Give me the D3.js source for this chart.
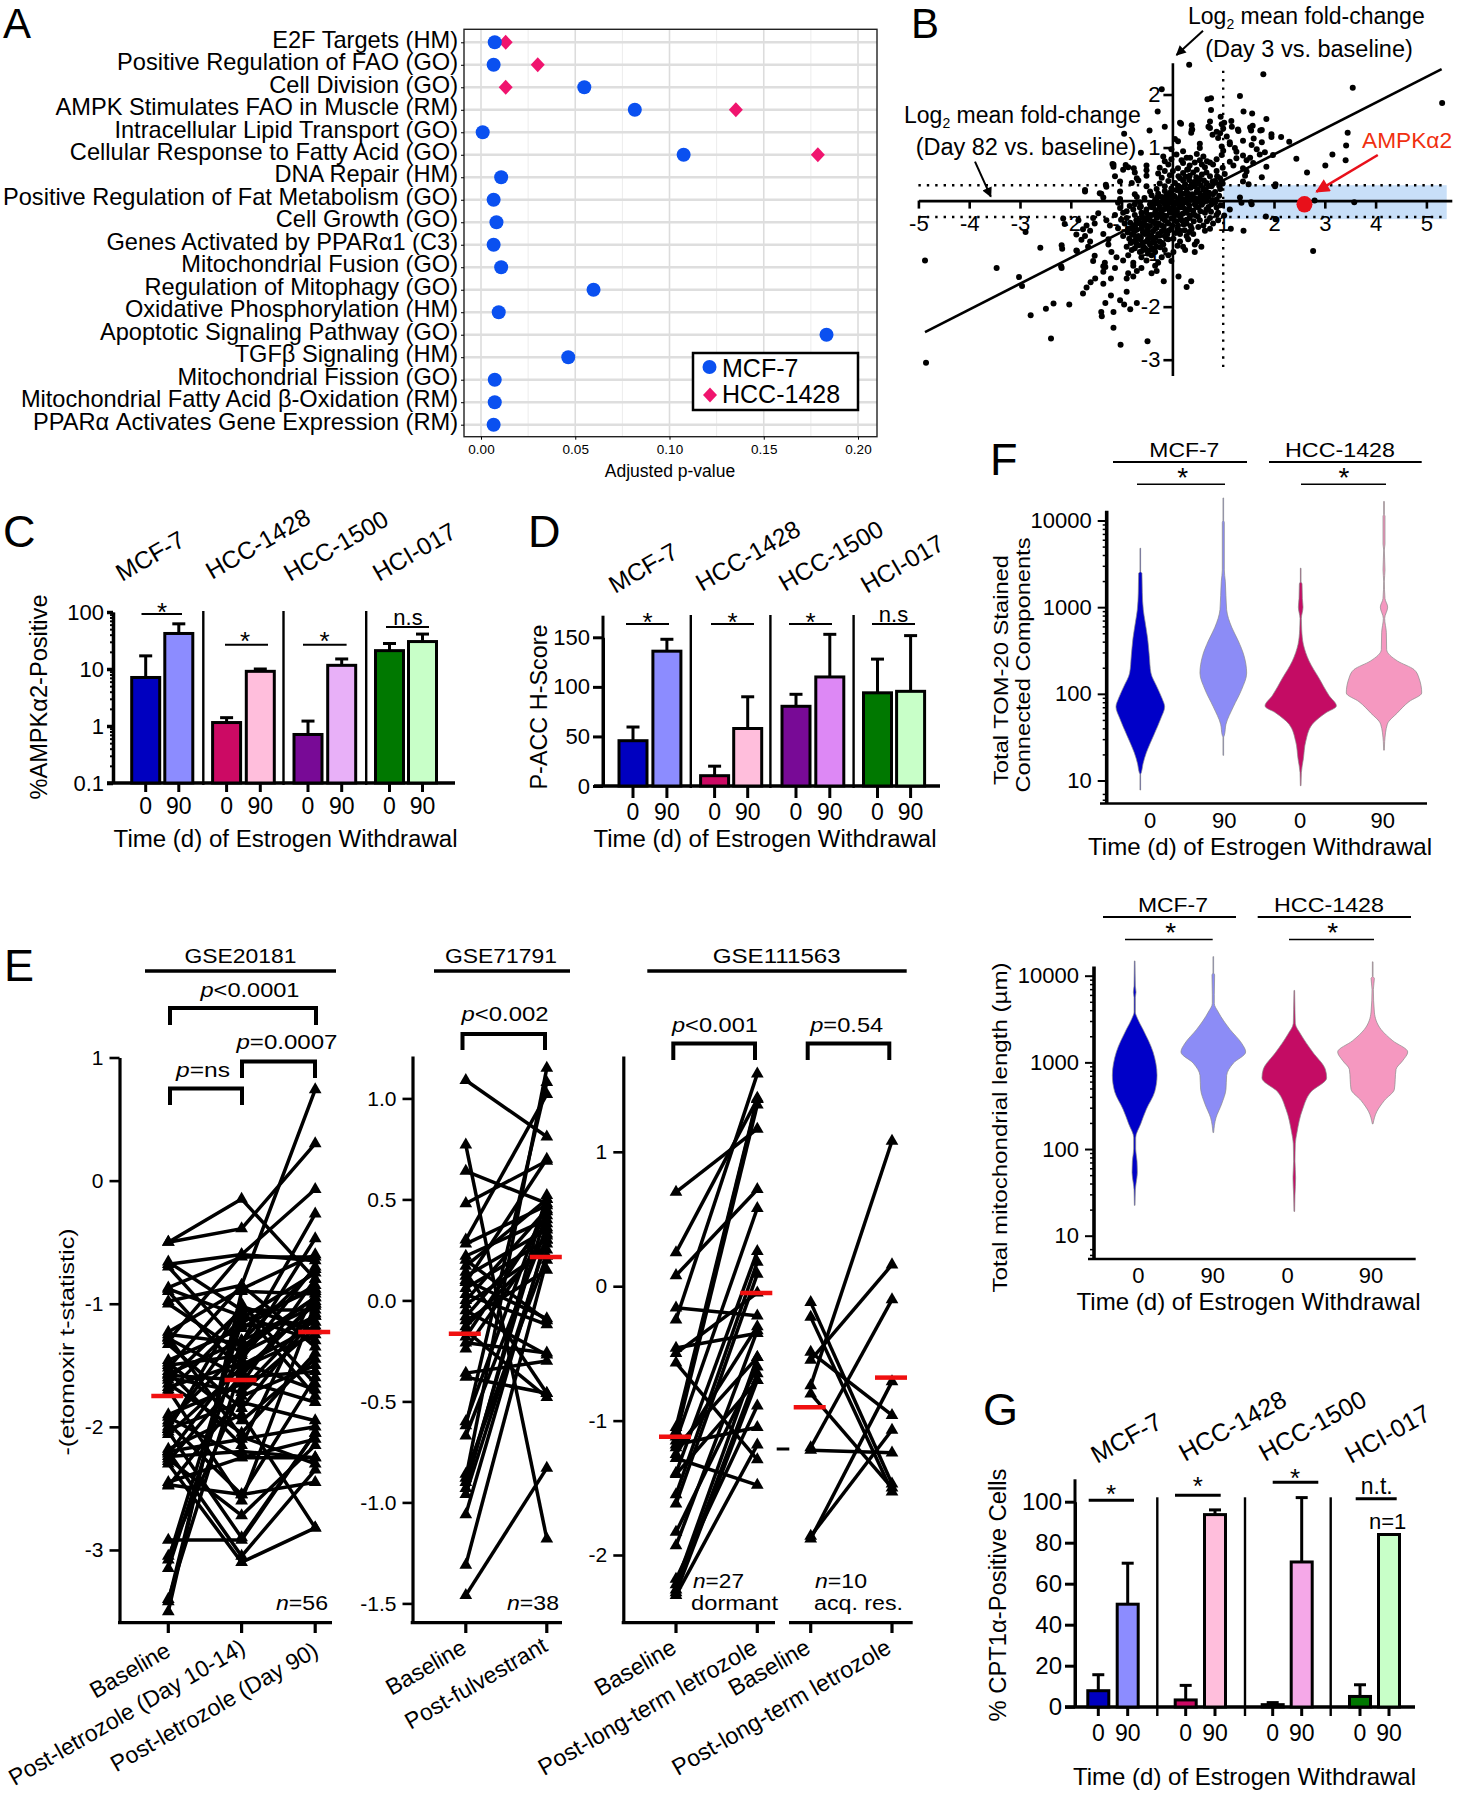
<!DOCTYPE html>
<html><head><meta charset="utf-8">
<script src="https://cdn.jsdelivr.net/npm/d3@7/dist/d3.min.js"></script>
<style>html,body{margin:0;padding:0;background:#fff}svg{display:block}text{font-family:"Liberation Sans",Arial,sans-serif;fill:#000}</style>
</head><body><script>
// ---------- Panel A
const pathways=["E2F Targets (HM)","Positive Regulation of FAO (GO)","Cell Division (GO)","AMPK Stimulates FAO in Muscle (RM)","Intracellular Lipid Transport (GO)","Cellular Response to Fatty Acid (GO)","DNA Repair (HM)","Positive Regulation of Fat Metabolism (GO)","Cell Growth (GO)","Genes Activated by PPARα1 (C3)","Mitochondrial Fusion (GO)","Regulation of Mitophagy (GO)","Oxidative Phosphorylation (HM)","Apoptotic Signaling Pathway (GO)","TGFβ Signaling (HM)","Mitochondrial Fission (GO)","Mitochondrial Fatty Acid β-Oxidation (RM)","PPARα Activates Gene Expression (RM)"];
const pMcf7=[.0073,.0067,.0548,.0816,.0009,.1075,.0107,.0067,.0082,.0067,.0107,.0597,.0094,.1833,.0463,.0073,.0073,.0067];
const pHcc=[.0131,.0301,.0131,.1352,null,.1787,null,null,null,null,null,null,null,null,null,null,null,null];
// ---------- Panel B
const fitLine=[[-4.87,-2.48],[5.3,2.48]];
const ampk=[2.6,-.07];
const scatterOuter=[[.33,2.56],[1.79,2.38],[-.21,2.1],[3.55,2.13],[5.31,1.84],[1.33,1.97],[.69,1.91],[.76,1.93],[.76,1.71],[-.29,1.68],[1.4,1.68],[1.57,1.64],[.95,1.58],[1.85,1.54],[.17,1.45],[-.15,1.39],[-.45,1.32],[-.95,1.26],[.39,1.34],[.37,1.28],[.71,1.39],[1.02,1.47],[1.17,1.39],[1.29,1.34],[1.58,1.41],[1.55,1.32],[1.73,1.32],[1.95,1.25],[2.14,1.2],[2.3,1.11],[3.45,1.28],[3.42,1.04],[3.15,.87],[3.41,.76],[3.01,.66],[2.44,.79],[2.65,.53],[1.98,.86],[2.03,.31],[1.55,-.03],[3.58,-.03],[2.8,0],[2.77,-.95],[1.15,-.53],[1.4,-.57],[1.84,-.3],[2.03,-.35],[-4.87,-1.13],[-4.85,-3.06],[-3.46,-1.27],[-3.02,-1.44],[-2.96,-1.61],[-2.79,-2.16],[-2.6,-.89],[-2.89,-.59],[-2.39,-2.6],[-2.49,-2.04],[-2.34,-1.94],[-2.03,-1.96],[-2.17,-.91],[-2.19,-1.24],[-1.88,-.95],[-1.72,.2],[-1.4,.13],[-1.31,.3],[-1.18,.69],[-1.16,.64],[-.92,.67],[-.76,.61],[-.62,.9],[-1.02,-2.72],[-.49,-2.65],[-1.16,-2.4],[-1.4,-2.1],[-1.39,-2.18],[-1.16,-2.1],[-.95,-1.96],[-.83,-2.05],[-.7,-1.93],[-1.32,-1.93],[.12,-1.43],[.37,-1.52],[.28,-1.63],[-.17,-1.52],[-1.76,-1.75],[-1.69,-1.64],[-1.61,-1.54],[-1.52,-1.47],[-1.36,-1.57],[-1.21,-1.47],[-1.32,-1.25],[-1.21,-1.79],[-.9,-1.72],[-1.03,-1.88]];
const scatterCore=[[.15,1.47],[.38,1.42],[.74,1.49],[.97,1.44],[1.16,1.5],[.38,1.33],[.74,1.37],[.87,1.3],[1,1.36],[1.3,1.31],[1.53,1.38],[1.76,1.33],[.79,1.24],[.94,1.27],[1.07,1.21],[1.95,1.2],[.05,1.16],[.11,1.12],[.9,1.18],[1.13,1.1],[1.39,1.13],[1.6,1.17],[1.76,1.1],[.54,1.07],[.97,1.02],[1.13,1.06],[1.23,.99],[1.56,1.05],[-.02,.97],[.21,.93],[.54,.99],[1,.94],[1.26,.92],[1.66,.97],[1.82,.91],[-.18,.83],[.08,.87],[.28,.81],[.48,.88],[.61,.83],[.97,.86],[1.26,.8],[1.39,.85],[1.53,.81],[1.72,.87],[-.15,.74],[-.02,.78],[.21,.71],[.54,.76],[.74,.72],[.87,.78],[1.13,.73],[1.46,.76],[1.59,.71],[-1.16,.68],[-.87,.63],[-.51,.66],[-.25,.62],[-.08,.68],[.11,.61],[.34,.66],[.64,.63],[.8,.68],[.99,.62],[1.2,.66],[1.39,.61],[1.85,.64],[-.97,.58],[-.74,.53],[-.51,.57],[-.28,.51],[-.15,.56],[.21,.52],[.48,.58],[.67,.53],[.87,.56],[1.03,.5],[1.46,.55],[-1.13,.46],[-.7,.42],[-.51,.47],[-.21,.43],[-.05,.48],[.15,.42],[.34,.47],[.54,.41],[.74,.46],[.94,.42],[1.43,.47],[1.76,.44],[-1.03,.36],[-.8,.33],[-.67,.38],[-.25,.32],[-.08,.37],[.05,.33],[.21,.38],[.38,.31],[.51,.36],[.67,.33],[.84,.37],[.99,.32],[1.39,.36],[1.5,.31],[-1.3,.26],[-.51,.27],[-.31,.22],[-.15,.27],[-.02,.23],[.11,.28],[.28,.22],[.44,.27],[.61,.23],[.77,.27],[.94,.22],[2.02,.27],[-1.72,.17],[-1.43,.14],[-1.03,.17],[-.74,.12],[-.44,.17],[-.28,.13],[-.15,.18],[-.02,.12],[.15,.17],[.31,.13],[.48,.17],[.64,.12],[.84,.16],[-1.36,.06],[-1.03,.03],[-.7,.07],[-.34,.02],[-.21,.07],[-.08,.03],[.05,.07],[.21,.02],[.38,.07],[.54,.03],[.71,.07],[.87,.02],[1.33,.06],[-1.07,-.04],[-.74,-.07],[-.64,-.03],[-.44,-.07],[-.28,-.03],[-.15,-.07],[-.02,-.03],[.11,-.07],[.28,-.03],[.44,-.07],[.61,-.03],[.77,-.07],[1.36,-.04],[1.56,-.07],[-1.03,-.14],[-.77,-.17],[-.64,-.13],[-.51,-.17],[-.38,-.13],[-.21,-.17],[-.08,-.13],[.05,-.17],[.21,-.13],[.34,-.17],[.51,-.13],[.67,-.17],[.87,-.13],[1.13,-.17],[-1.46,-.24],[-1.13,-.27],[-.97,-.23],[-.74,-.27],[-.61,-.23],[-.48,-.27],[-.34,-.23],[-.18,-.27],[-.05,-.23],[.11,-.27],[.28,-.23],[.44,-.27],[.64,-.23],[.87,-.27],[-2.15,-.34],[-1.85,-.37],[-1.56,-.33],[-1.3,-.37],[-.9,-.33],[-.71,-.37],[-.57,-.33],[-.44,-.37],[-.31,-.33],[-.15,-.37],[.02,-.33],[.18,-.37],[.34,-.33],[.54,-.37],[.74,-.33],[.9,-.37],[-2.12,-.44],[-1.69,-.47],[-1.53,-.43],[-1.23,-.47],[-.94,-.43],[-.77,-.47],[-.64,-.43],[-.51,-.47],[-.34,-.43],[-.21,-.47],[-.08,-.43],[.11,-.47],[.28,-.43],[.61,-.47],[.8,-.43],[-1.76,-.54],[-1.62,-.57],[-.87,-.53],[-.74,-.57],[-.61,-.53],[-.48,-.57],[-.34,-.53],[-.15,-.57],[-.02,-.53],[.15,-.57],[.38,-.53],[.64,-.57],[.74,-.53],[-1.89,-.64],[-1.72,-.67],[-1.36,-.63],[-.97,-.67],[-.8,-.63],[-.67,-.67],[-.54,-.63],[-.41,-.67],[-.28,-.63],[-.15,-.67],[.15,-.63],[.28,-.67],[.41,-.63],[-1.79,-.74],[-1.62,-.77],[-1.26,-.73],[-.77,-.77],[-.64,-.73],[-.51,-.77],[-.38,-.73],[-.25,-.77],[-.08,-.73],[.15,-.77],[.31,-.73],[.48,-.77],[-2.18,-.84],[-1.66,-.87],[-1.26,-.83],[-.9,-.87],[-.7,-.83],[-.57,-.87],[-.44,-.83],[-.31,-.87],[-.18,-.83],[.21,-.87],[.44,-.83],[.57,-.87],[-1.89,-.94],[-1.2,-.97],[-.8,-.93],[-.64,-.97],[-.51,-.93],[-.34,-.97],[-.15,-.93],[.02,-.97],[.25,-.93],[.44,-.97],[-1.53,-1.04],[-1.1,-1.07],[-.87,-1.03],[-.61,-1.07],[-.41,-1.03],[-.21,-1.07],[-.08,-1.03],[-1.56,-1.14],[-1.33,-1.17],[-.97,-1.13],[-.77,-1.17],[-.51,-1.13],[-.28,-1.17],[-.02,-1.14],[-2.18,-1.27],[-1.36,-1.24],[-1.13,-1.27],[-.77,-1.23],[-.61,-1.27],[-.34,-1.23],[-1.36,-1.34],[-.87,-1.37],[-.7,-1.33],[-.41,-1.37],[-.31,-1.33],[-.9,-1.47],[-.77,-1.43]];
const scatterDense=[[.29,.58],[.41,.53],[.58,.49],[.47,.44],[.62,.38],[.33,.39],[.43,.35],[.56,.29],[.71,.28],[.25,.31],[.36,.24],[.5,.21],[.66,.18],[.8,.12],[.18,.24],[.24,.13],[.39,.12],[.55,.11],[.72,.15],[.08,.2],[.16,.08],[.3,.06],[.46,.04],[.62,.06],[.79,.01],[.92,.09],[-.05,.15],[.03,.09],[.12,.02],[.25,-.02],[.36,.01],[.5,-.02],[.68,-.01],[.84,-.04],[.95,-.09],[-.12,.09],[-.03,.04],[.08,-.03],[.19,-.08],[.33,-.09],[.47,-.11],[.58,-.08],[.71,-.12],[-.18,.03],[-.09,-.05],[.02,-.09],[.14,-.13],[.26,-.17],[.41,-.19],[.55,-.2],[.76,-.21],[-.3,.06],[-.19,-.02],[-.11,-.1],[.01,-.15],[.09,-.21],[.2,-.25],[.35,-.28],[.5,-.3],[-.35,-.06],[-.25,-.11],[-.15,-.16],[-.05,-.2],[.05,-.27],[.16,-.32],[.28,-.36],[.42,-.39],[-.42,-.12],[-.32,-.18],[-.22,-.23],[-.12,-.29],[-.02,-.34],[.08,-.39],[.22,-.45],[.36,-.48],[-.52,-.22],[-.42,-.27],[-.28,-.29],[-.2,-.34],[-.1,-.41],[0,-.47],[.1,-.53],[.24,-.56],[-.6,-.3],[-.5,-.35],[-.38,-.4],[-.27,-.43],[-.17,-.49],[-.06,-.56],[.06,-.61],[-.66,-.38],[-.56,-.42],[-.44,-.48],[-.31,-.51],[-.21,-.58],[-.1,-.63],[-.72,-.45],[-.6,-.5],[-.5,-.55],[-.38,-.58],[-.25,-.66],[-.12,-.72],[-.82,-.52],[-.7,-.55],[-.58,-.6],[-.45,-.65],[-.33,-.7],[-.2,-.8],[-.88,-.6],[-.76,-.65],[-.62,-.7],[-.48,-.72],[-.35,-.79],[-.24,-.88],[-.85,-.72],[-.72,-.74],[-.58,-.79],[-.45,-.8],[-.36,-.9],[-.82,-.8],[-.66,-.84],[-.54,-.9],[-.42,-.92],[-.74,-.9],[-.6,-.95],[-.48,-1],[.18,.76],[.35,.81],[.44,.72],[.58,.68],[.68,.74],[.31,.59],[.12,.46],[.01,.56],[.26,.45],[.88,.46],[.79,.36],[.92,.28],[-.41,.1],[-.55,.05],[-.62,-.11],[-.84,-.1],[-.9,-.2],[-1.01,-.36],[-.83,-.42],[-1.07,-.52],[.9,-.23],[1.02,-.28],[.68,-.39],[.51,-.5],[.33,-.59],[.02,-.72],[.1,-.85]];
// ---------- Panels C, D, G
const lines4=["MCF-7","HCC-1428","HCC-1500","HCI-017"];
const barKeys=["m0","m90","h0","h90","b0","b90","i0","i90"];
const barLabels=["0","90","0","90","0","90","0","90"];
const cVal=[7.1,42,1.15,9.1,.71,11.6,21,30.3], cErr=[17,62,1.4,10,1.22,15,28,41];
const cFill=["#0000c0","#8c8cff","#cc0a64","#ffbedc","#780a96","#e8b0f8","#007800","#c8ffc8"];
const dVal=[45.7,136,10.4,58,80.4,110,94,95.5], dErr=[59.5,148,20,90,92.5,153,128,151.7];
const dFill=["#0000c0","#8c8cff","#cc0a64","#ffbedc","#780a96","#dd88f5","#007800","#c8ffc8"];
const gVal=[7.8,50,3.3,93.7,1,70.6,5,84], gErr=[15.6,70,10.4,96,2,102,10.7,84];
const gFill=["#0000c0","#8c8cff","#cc0a64","#ffbedc","#780a96","#f5a8e8","#007800","#c8ffc8"];
// ---------- Panel E
const e1Base=[-.5,-.5,-.66,-.68,-.7,-.87,-.88,-.9,-.98,-1,-1.23,-1.25,-1.28,-1.3,-1.33,-1.46,-1.48,-1.5,-1.52,-1.55,-1.57,-1.6,-1.62,-1.65,-1.68,-1.7,-1.72,-1.9,-1.92,-1.95,-1.97,-2,-2.02,-2.04,-2.06,-2.18,-2.2,-2.22,-2.24,-2.26,-2.28,-2.3,-2.45,-2.47,-2.48,-2.92,-3.05,-3.08,-3.15,-3.4,-3.42,-3.5,-2.2,-2.02,-1.58,-1.27];
const e1Mid=[-.15,-.39,-1.05,-.6,-1.35,-.62,-1.1,-1.55,-.85,-1.4,-.88,-1.32,-1.6,-.6,-1.85,-1.2,-1.95,-1.42,-.85,-2.15,-1.3,-1.72,-1.05,-2.05,-1.48,-2.6,-1.12,-1.65,-2.25,-1.38,-2.55,-1.18,-1.8,-2.9,-1.52,-1.9,-3.05,-1.45,-2.2,-2.72,-1.58,-3.1,-2.25,-2.55,-1.75,-2.92,-1.7,-1.15,-1.3,-1.5,-1.02,-.9,-2.1,-1,-1.62,-2.08];
const e1Late=[-.8,.3,-1.05,-.07,-.95,-.62,-1.3,-1,.74,-1.1,-.6,-.27,-1.55,-.65,-1.1,-.85,-1.45,-.47,-1.35,-.9,-.72,-1.2,-1.75,-1.4,-1.7,-1,-.75,-.8,-2.1,-.95,-1.6,-1.15,-1.95,-2.05,-1.25,-2.82,-2.35,-.7,-2.25,-2.15,-.98,-2.82,-2.25,-2.45,-1.5,-2.05,-1.08,-.88,-1.02,-1.18,-1.22,-.92,-2,-1.65,-1.8,-2.3];
const e2Base=[1.09,.77,.64,.48,.3,.28,.22,.2,.17,.14,.12,.09,.06,.03,0,-.02,-.05,-.08,-.1,-.13,-.15,-.18,-.21,-.24,-.36,-.38,-.6,-.62,-.67,-.86,-.88,-.9,-.93,-.96,-1.06,-1.31,-1.46,.1];
const e2Post=[.81,-1.18,.48,.69,1.02,.47,.4,-.1,.5,-.46,.35,.7,.3,-.12,.45,.25,-.27,.38,.15,.28,-.48,.42,-.26,.33,-.3,-.46,.5,1.08,.36,.22,1.15,.44,.52,.3,.32,.2,-.83,-.09];
const e3Base=[.7,.25,.08,-.16,-.25,-.46,-.5,-.57,-1.05,-1.08,-1.12,-1.15,-1.18,-1.2,-1.25,-1.28,-1.39,-1.4,-1.55,-1.62,-1.83,-1.93,-2.18,-2.22,-2.26,-2.28,-2.3];
const e3Post=[1.17,1.39,.72,-.22,1.58,-.35,-.05,-1.29,1.4,1.39,1.35,.58,-1.05,-.53,-.3,-1.48,.26,-.7,.18,.09,-.6,-.33,-.89,-.53,-.65,-.7,-1.18];
const e4Base=[-.12,-.23,-.49,-.55,-.74,-.8,-1.2,-1.22,-1.86,-1.88];
const e4Post=[-1.47,-1.53,-.96,.16,1.08,-1.5,-.1,-1.24,-1.07,-.71];
const e1Means=[-1.75,-1.62,-1.23], e2Means=[-.165,.215], e3Means=[-1.12,-.05], e4Means=[-.9,-.68];
// ---------- Panel F: [log10 value, relative density]
const fTomV=[
 [[3.68,1],[3.41,1],[3.39,5],[3.17,6],[2.97,9],[2.84,14],[2.64,22],[2.44,27],[2.24,32],[2.08,50],[1.95,65],[1.85,73],[1.72,62],[1.52,40],[1.32,18],[1.19,8],[1.09,3],[1.07,1],[.89,1]],
 [[4.26,1],[4,1],[3.98,3],[3.43,3],[3.3,6],[2.97,10],[2.77,25],[2.61,45],[2.44,62],[2.24,70],[2.05,55],[1.85,30],[1.65,8],[1.52,3],[1.5,1],[1.29,1]],
 [[3.45,1],[3.29,1],[3.27,4],[3.1,5],[3,7],[2.87,2],[2.74,3],[2.57,8],[2.38,25],[2.18,55],[1.98,85],[1.86,107],[1.78,75],[1.65,35],[1.45,15],[1.25,8],[1.09,2],[.94,1]],
 [[4.22,1],[4.07,1],[4.05,3],[3.73,3],[3.66,1],[3.43,3],[3.3,1],[3.1,3],[3,11],[2.87,2],[2.71,7],[2.51,8],[2.38,40],[2.28,90],[2.18,105],[2.01,113],[1.91,75],[1.78,40],[1.65,10],[1.45,2],[1.35,1]]];
const fLenV=[
 [[4.17,1],[3.88,2],[3.81,4],[3.75,2],[3.58,2],[3.51,8],[3.38,25],[3.12,55],[2.85,67],[2.66,60],[2.46,35],[2.29,18],[2.13,3],[2,3],[1.86,7],[1.73,8],[1.6,4],[1.53,2],[1.35,1]],
 [[4.22,1],[4.03,1],[4.01,4],[3.78,3],[3.68,3],[3.58,15],[3.38,50],[3.22,85],[3.12,97],[2.99,60],[2.85,40],[2.69,38],[2.52,25],[2.36,8],[2.19,1]],
 [[3.83,1],[3.61,2],[3.45,3],[3.32,20],[3.12,55],[2.92,93],[2.82,97],[2.66,50],[2.46,25],[2.19,8],[2.06,3],[1.86,2],[1.67,4],[1.47,2],[1.28,1]],
 [[4.16,1],[3.99,1],[3.97,5],[3.84,2],[3.58,5],[3.38,25],[3.25,60],[3.12,105],[3.02,90],[2.92,70],[2.69,65],[2.56,35],[2.43,12],[2.29,1]]];
const violinFill=["#0000c8","#8c8cf6","#c40c64","#f598c0"];
const violinKeys=["m0","m90","h0","h90"], violinLabels=["0","90","0","90"];

// ---------- helpers
const svg=d3.select("body").append("svg").attr("width",1459).attr("height",1800).attr("viewBox","0 0 1459 1800");
const defs=svg.append("defs");
[["ab","#000"],["ar","#e8101a"]].forEach(([id,c])=>defs.append("marker").attr("id",id).attr("viewBox","0 0 10 10").attr("refX",9).attr("refY",5).attr("markerUnits","userSpaceOnUse").attr("orient","auto").attr("markerWidth",id=="ar"?18:11).attr("markerHeight",id=="ar"?14:10).append("path").attr("d","M0,0L10,5L0,10z").attr("fill",c));
function T(x,y,s,size,o={}){
  const t=svg.append("text").attr("font-size",size).attr("text-anchor",o.a||"middle");
  if(o.rot!=null)t.attr("transform",`translate(${x},${y}) rotate(${o.rot})`);else t.attr("x",x).attr("y",y);
  if(o.c)t.style("fill",o.c);
  if(o.mid)t.attr("dy",".35em");
  if(o.it)t.attr("font-style","italic");
  if(o.w)t.attr("font-weight",o.w);
  if(o.p){t.append("tspan").attr("font-style","italic").text(o.p);t.append("tspan").text(s);}else t.text(s);
  if(o.len)t.attr("textLength",o.len).attr("lengthAdjust","spacingAndGlyphs");
  return t;
}
function L(x1,y1,x2,y2,w=3,c="#000",dash){const l=svg.append("line").attr("x1",x1).attr("y1",y1).attr("x2",x2).attr("y2",y2).attr("stroke",c).attr("stroke-width",w);if(dash)l.attr("stroke-dasharray",dash);return l;}
function star(x,yc,size=26){T(x,yc+size*.5,"*",size);}
function styleAxis(g,w,size,font){g.selectAll(".domain").attr("stroke","#000").attr("stroke-width",w);g.selectAll(".tick line").attr("stroke","#000").attr("stroke-width",w);g.selectAll("text").attr("font-size",font).attr("font-family",null);g.attr("font-family",null);}
[["A",3,38,42],["B",911,38,42],["C",3,546.7,45],["D",528,547,45],["E",4,980.6,45],["F",990,474.5,45],["G",983,1425,45]].forEach(d=>T(d[1],d[2],d[0],d[3],{a:"start"}));

// ---------- Panel A
{
 const x=d3.scaleLinear([0,.2],[481,858]),y=d3.scalePoint(pathways,[42.3,424.7]);
 [0,.025,.05,.075,.1,.125,.15,.175,.2].forEach(v=>L(x(v),29.3,x(v),436.7,Math.round(v*1000)%50?1:1.6,Math.round(v*1000)%50?"#ececec":"#dcdcdc"));
 pathways.forEach(p=>L(464,y(p),877,y(p),2.5,"#dedede"));
 svg.append("rect").attr("x",464).attr("y",29.3).attr("width",413).attr("height",407.4).attr("fill","none").attr("stroke","#222").attr("stroke-width",1.4);
 const gy=svg.append("g").attr("transform","translate(464,0)").call(d3.axisLeft(y).tickSize(3).tickPadding(3));
 styleAxis(gy,1,3,23.6);gy.select(".domain").remove();gy.selectAll("text").attr("dy",".2em");
 const gx=svg.append("g").attr("transform","translate(0,436.7)").call(d3.axisBottom(x).tickValues([0,.05,.1,.15,.2]).tickFormat(d3.format(".2f")).tickSize(3).tickPadding(5));
 styleAxis(gx,1,3,13.5);gx.select(".domain").remove();
 T(670,477,"Adjusted p-value",17.5);
 pathways.forEach((p,i)=>{
   if(pHcc[i]!=null)svg.append("path").attr("d","M0,-7.5L7,0L0,7.5L-7,0Z").attr("transform",`translate(${x(pHcc[i])},${y(p)})`).attr("fill","#f0146e");
 });
 pathways.forEach((p,i)=>svg.append("circle").attr("cx",x(pMcf7[i])).attr("cy",y(p)).attr("r",7).attr("fill","#0a50f0"));
 svg.append("rect").attr("x",693).attr("y",353).attr("width",165).attr("height",57).attr("fill","#fff").attr("stroke","#000").attr("stroke-width",2.5);
 svg.append("circle").attr("cx",709.5).attr("cy",367).attr("r",7).attr("fill","#0a50f0");
 svg.append("path").attr("d","M0,-7.5L7,0L0,7.5L-7,0Z").attr("transform","translate(710,395)").attr("fill","#f0146e");
 T(722,377,"MCF-7",25,{a:"start"});T(722,403,"HCC-1428",25,{a:"start"});
}
// ---------- Panel B
{
 const x=d3.scaleLinear([-5,5.5],[918.4,1451.8]),y=d3.scaleLinear([2.6,-3.3],[62.7,375.6]);
 svg.append("rect").attr("x",x(1)).attr("y",y(.29)).attr("width",x(5.4)-x(1)).attr("height",y(-.35)-y(.29)).attr("fill","#c8dff8");
 const fmt=d=>String(d);
 const gx=svg.append("g").attr("transform",`translate(0,${y(0)})`).call(d3.axisBottom(x).tickValues([-5,-4,-3,-2,-1,1,2,3,4,5]).tickFormat(fmt).tickSize(8).tickPadding(7).tickSizeOuter(0));
 styleAxis(gx,2.6,8,22);
 const gy=svg.append("g").attr("transform",`translate(${x(0)},0)`).call(d3.axisLeft(y).tickValues([-3,-2,-1,1,2]).tickFormat(fmt).tickSize(9).tickPadding(3).tickSizeOuter(0));
 styleAxis(gy,2.6,9,22);
 L(x(-5),y(.29),x(5.4),y(.29),2.4,"#000","2.4 6");
 L(x(-5),y(-.31),x(5.4),y(-.31),2.4,"#000","2.4 6");
 L(x(1),y(2.45),x(1),y(-3.2),2.4,"#000","2.4 6");
 L(x(fitLine[0][0]),y(fitLine[0][1]),x(fitLine[1][0]),y(fitLine[1][1]),2.6);
 svg.selectAll("circle.sc").data(scatterOuter.concat(scatterCore,scatterDense)).join("circle").attr("class","sc").attr("cx",d=>x(d[0])).attr("cy",d=>y(d[1])).attr("r",3).attr("fill","#000");
 svg.append("ellipse").attr("cx",x(ampk[0])).attr("cy",y(ampk[1])).attr("rx",8).attr("ry",8.3).attr("fill","#e8101a");
 function log2(xp,yp){const t=svg.append("text").attr("x",xp).attr("y",yp).attr("font-size",23);t.append("tspan").text("Log");t.append("tspan").attr("font-size",14).attr("dy",5).text("2");t.append("tspan").attr("dy",-5).text(" mean fold-change");}
 log2(1188,24);T(1309,56.7,"(Day 3 vs. baseline)",23.5);
 log2(904,122.7);T(1026,155,"(Day 82 vs. baseline)",23.5);
 L(1203,30.7,1176.5,55,2).attr("marker-end","url(#ab)");
 L(975,161.7,990.8,196.7,2).attr("marker-end","url(#ab)");
 L(1377.8,155,1316.5,191.7,2.6,"#e8101a").attr("marker-end","url(#ar)");
 T(1362,147.7,"AMPKα2",22,{a:"start",c:"#f03010",len:90});
}
// ---------- bar panels
function barPanel(o){
 const x=d3.scaleOrdinal(barKeys,o.centers);
 const y=o.y;
 const gx=svg.append("g").attr("transform",`translate(0,${o.y0})`);
 gx.append("line").attr("x1",o.xr[0]).attr("x2",o.xr[1]).attr("stroke","#000").attr("stroke-width",o.sw+.6);
 barKeys.forEach((k,i)=>{
   const cx=x(k),top=y(o.val[i]),bw=o.bw;
   if(o.err[i]>o.val[i]){L(cx,top,cx,y(o.err[i]),o.sw);L(cx-o.cap,y(o.err[i]),cx+o.cap,y(o.err[i]),o.sw);}
   svg.append("rect").attr("x",cx-bw/2).attr("y",top).attr("width",bw).attr("height",Math.max(0,o.y0-top)).attr("fill",o.fill[i]).attr("stroke","#000").attr("stroke-width",o.sw);
   L(cx,o.y0,cx,o.y0+o.tick,o.sw);
   T(cx,o.tickY,barLabels[i],o.font,{mid:1});
 });
 o.div.forEach(d=>L(d,o.divY[0],d,o.divY[1],2.4));
}
{
 const y=d3.scaleLog([.1,100],[783,612]);
 barPanel({centers:[145.7,178.8,226.6,260.3,308,341.7,389.5,422.5],y,y0:783,xr:[107,455],val:cVal,err:cErr,fill:cFill,bw:28,cap:6.5,sw:3,tick:9,tickY:806,font:23,div:[203.3,283.5,366.2],divY:[611,785]});
 const g=svg.append("g").attr("transform","translate(113,0)").call(d3.axisLeft(y).tickValues([.2,.3,.4,.5,.6,.7,.8,.9,2,3,4,5,6,7,8,9,20,30,40,50,60,70,80,90]).tickFormat("").tickSize(3).tickSizeOuter(0));
 styleAxis(g,2,3,12);
 const g2=svg.append("g").attr("transform","translate(113,0)").call(d3.axisLeft(y).tickValues([.1,1,10,100]).tickFormat(d=>String(d)).tickSize(6).tickPadding(3).tickSizeOuter(0));
 styleAxis(g2,3.5,6,22);
 T(47,697,"%AMPKα2-Positive",23,{rot:-90,len:205});
 T(285.6,847,"Time (d) of Estrogen Withdrawal",23,{len:344});
 [[122,582],[212,580],[290,582],[379,582]].forEach((p,i)=>T(p[0],p[1],lines4[i],24.5,{a:"start",rot:-30}));
 L(141.5,614,182,614,2);star(162,608);L(225,644.7,268,644.7,2);star(245,637);L(303,644.7,346.6,644.7,2);star(324.5,637);L(386,627,429,627,2);T(408,617,"n.s",22,{mid:1});
}
{
 const y=d3.scaleLinear([0,150],[786,637.3]);
 barPanel({centers:[633,666.9,714.6,747.7,796,829.8,877.5,910.6],y,y0:786,xr:[594,940],val:dVal,err:dErr,fill:dFill,bw:28,cap:6.5,sw:3,tick:12,tickY:812,font:23,div:[690.8,770.4,853.6],divY:[615,788]});
 L(603,615.7,603,786,3);
 const g=svg.append("g").attr("transform","translate(603,0)").call(d3.axisLeft(y).tickValues([0,50,100,150]).tickSize(10).tickPadding(3).tickSizeOuter(0));
 styleAxis(g,3,10,22);
 T(547,707,"P-ACC H-Score",23,{rot:-90,len:165});
 T(765,847,"Time (d) of Estrogen Withdrawal",23,{len:343});
 [[615,594],[702,592],[785,592],[867,594]].forEach((p,i)=>T(p[0],p[1],lines4[i],24.5,{a:"start",rot:-30}));
 [[626,669],[711,754],[789,832]].forEach(s=>{L(s[0],624,s[1],624,2);star((s[0]+s[1])/2,618);});
 L(872,624,915,624,2);T(893.5,614,"n.s",22,{mid:1});
}
{
 const y=d3.scaleLinear([0,100],[1706.7,1501.7]);
 barPanel({centers:[1098.3,1127.7,1185.7,1215,1272.7,1301.7,1360,1389],y,y0:1707,xr:[1065,1415],val:gVal,err:gErr,fill:gFill,bw:21,cap:6,sw:3,tick:9,tickY:1733,font:23,div:[1157.3,1245,1330.7],divY:[1497.3,1716]});
 L(1075,1479.3,1075,1707,3);
 const g=svg.append("g").attr("transform","translate(1075,0)").call(d3.axisLeft(y).tickValues([0,20,40,60,80,100]).tickSize(10).tickPadding(3).tickSizeOuter(0));
 styleAxis(g,3,10,24);
 T(1006,1595,"% CPT1α-Positive Cells",23,{rot:-90,len:253});
 T(1244.5,1785,"Time (d) of Estrogen Withdrawal",24,{len:343});
 [[1097,1464],[1185,1462],[1265,1462],[1351,1464]].forEach((p,i)=>T(p[0],p[1],lines4[i],25,{a:"start",rot:-29}));
 L(1088.7,1500.3,1134,1500.3,3);star(1111,1490);L(1175,1495.3,1220.7,1495.3,3);star(1197.7,1482);L(1272.7,1482.3,1318.3,1482.3,3);star(1295,1474);
 L(1355.7,1498.7,1396.7,1498.7,3);T(1376.7,1486,"n.t.",23,{mid:1});T(1387.7,1521.7,"n=1",22,{mid:1});
}
// ---------- Panel E
function paired(cols,means,keys,x,y){
 const rows=d3.range(cols[0].length);
 const ln=d3.line().x((d,i)=>x(keys[i])).y(d=>y(d));
 rows.forEach(r=>svg.append("path").attr("d",ln(cols.map(c=>c[r]))).attr("fill","none").attr("stroke","#000").attr("stroke-width",3.5));
 const tri=d3.symbol(d3.symbolTriangle,70)();
 cols.forEach((c,i)=>svg.selectAll(null).data(c).join("path").attr("d",tri).attr("fill","#000").attr("transform",d=>`translate(${x(keys[i])},${y(d)})`));
 means.forEach((m,i)=>L(x(keys[i])-17,y(m),x(keys[i])+15,y(m),4.5,"#f01010"));
}
function bracket(x1,x2,ytop,ybot){svg.append("path").attr("d",d3.line()([[x1,ybot],[x1,ytop],[x2,ytop],[x2,ybot]])).attr("fill","none").attr("stroke","#000").attr("stroke-width",4);}
function eAxis(xp,y,vals,fmt){const g=svg.append("g").attr("transform",`translate(${xp},0)`).call(d3.axisLeft(y).tickValues(vals).tickFormat(fmt).tickSize(10).tickPadding(6).tickSizeOuter(0));styleAxis(g,3.2,10,21);g.selectAll(".tick line").attr("stroke-width",2.6);}
function eXAxis(xr,keys,x){L(xr[0],1622.6,xr[1],1622.6,3.2);keys.forEach(k=>L(x(k),1622.6,x(k),1633,3.2));}
{
 const keys=["b","m","l"];const x=d3.scaleOrdinal(keys,[168.3,241.6,315.2]);
 const y=d3.scaleLinear([1,-3.59],[1057.5,1622.6]);
 eAxis(119.5,y,[1,0,-1,-2,-3],d=>String(d));eXAxis([118,332],keys,x);
 paired([e1Base,e1Mid,e1Late],e1Means,keys,x,y);
 T(74,1342,"-(etomoxir t-statistic)",21,{rot:-90,len:227});
 T(240.5,963,"GSE20181",20,{len:112});L(145,971,336,971,3.5);
 T(250,997,"<0.0001",21,{p:"p",len:99});bracket(170,316,1008,1025);
 T(203,1077,"=ns",21,{p:"p",len:54});bracket(170,242,1088.4,1105);
 T(287,1049,"=0.0007",21,{p:"p",len:101});bracket(242,315,1061.4,1078);
 T(302,1610,"=56",20,{p:"n",len:52});
 [["Baseline",172,1655],["Post-letrozole (Day 10-14)",247,1652],["Post-letrozole (Day 90)",320,1655]].forEach(d=>T(d[1],d[2],d[0],23,{a:"end",rot:-30}));
}
{
 const keys=["b","p"];const x=d3.scaleOrdinal(keys,[465.8,546.8]);
 const y=d3.scaleLinear([1.21,-1.595],[1056,1622.6]);
 eAxis(412.5,y,[1,.5,0,-.5,-1,-1.5],d=>d.toFixed(1));eXAxis([410.7,562],keys,x);
 paired([e2Base,e2Post],e2Means,keys,x,y);
 T(501,963,"GSE71791",20,{len:112});L(434,971,570,971,3.5);
 T(505,1021,"<0.002",21,{p:"p",len:87});bracket(462.5,545,1034,1050);
 T(533,1610,"=38",20,{p:"n",len:52});
 [["Baseline",468,1652],["Post-fulvestrant",549,1650]].forEach(d=>T(d[1],d[2],d[0],23,{a:"end",rot:-30}));
}
{
 const keys=["b1","p1","b2","p2"];const x=d3.scaleOrdinal(keys,[676,757.3,810.7,892]);
 const y=d3.scaleLinear([1.713,-2.503],[1056,1622.6]);
 eAxis(623.3,y,[1,0,-1,-2],d=>String(d));
 eXAxis([621.7,775],["b1","p1"],x);eXAxis([789,912.7],["b2","p2"],x);
 L(776.7,1449,789.3,1449,3);
 paired([e3Base,e3Post],e3Means,["b1","p1"],x,y);
 paired([e4Base,e4Post],e4Means,["b2","p2"],x,y);
 T(776.7,963,"GSE111563",20,{len:128});L(647.3,971,906.7,971,3.5);
 T(715,1032,"<0.001",21,{p:"p",len:86});bracket(673.3,755,1043.5,1060);
 T(846.7,1032,"=0.54",21,{p:"p",len:73});bracket(807.7,889.3,1043.5,1060);
 T(718.5,1588,"=27",20,{p:"n",len:51});T(734.5,1610,"dormant",20,{len:87});
 T(841,1588,"=10",20,{p:"n",len:52});T(858.5,1610,"acq. res.",20,{len:89});
 [["Baseline",678,1652],["Post-long-term letrozole",759,1652],["Baseline",812,1652],["Post-long-term letrozole",892.7,1652]].forEach(d=>T(d[1],d[2],d[0],23.4,{a:"end",rot:-30}));
}
// ---------- Panel F
function violinPanel(o){
 const y=d3.scaleLog([10,10000],[o.y10,o.y10000]);
 const w=d3.scaleLinear([0,113],[0,37.7]);
 const x=d3.scaleOrdinal(violinKeys,o.centers), xl=d3.scaleOrdinal(violinKeys,o.labelX);
 L(o.xr[0],o.y0,o.xr[1],o.y0,2.4);
 const minor=[];[10,100,1000].forEach(d=>[2,3,4,5,6,7,8,9].forEach(m=>minor.push(d*m)));
 [2,3,4,5,6,7].forEach(m=>y(m)<o.y0&&minor.push(m));
 const axis=o.ax;
 const g1=svg.append("g").attr("transform",`translate(${axis},0)`).call(d3.axisLeft(y).tickValues(minor).tickFormat("").tickSize(4).tickSizeOuter(0));
 styleAxis(g1,1.5,4,10);g1.select(".domain").remove();
 const g2=svg.append("g").attr("transform",`translate(${axis},0)`).call(d3.axisLeft(y).tickValues([10,100,1000,10000]).tickFormat(d=>String(d)).tickSize(9).tickPadding(6).tickSizeOuter(0));
 styleAxis(g2,2,9,22);g2.select(".domain").remove();
 L(axis,o.y0,axis,o.yTop,3.6);
 o.data.forEach((d,i)=>{
   const k=violinKeys[i];
   const area=d3.area().y(v=>y(10**v[0])).x0(v=>x(k)-w(v[1])).x1(v=>x(k)+w(v[1])).curve(d3.curveMonotoneY);
   svg.append("path").attr("d",area(d)).attr("fill",violinFill[i]).attr("stroke","#8a8a8a").attr("stroke-width",.7);
   T(xl(k),o.labY,violinLabels[i],22,{mid:1});
 });
}
violinPanel({y10:780.5,y10000:520.5,y0:803.5,yTop:510.7,ax:1106.7,xr:[1100,1427],centers:[1140.3,1223.3,1300.7,1384],labelX:[1150,1224.3,1300,1382.7],labY:820,data:fTomV});
T(1260,855,"Time (d) of Estrogen Withdrawal",24,{len:344});
T(1184.3,457,"MCF-7",21,{len:70});L(1113,462,1247,462,2);T(1340,457,"HCC-1428",21,{len:110});L(1269,462,1421.7,462,2);
star(1182.7,473,28);L(1137,484.3,1225,484.3,1.5);star(1344,473,28);L(1301,484.3,1386,484.3,1.5);
T(1008,670,"Total TOM-20 Stained",21,{rot:-90,len:230});T(1030,665,"Connected Components",21,{rot:-90,len:255});
violinPanel({y10:1235.7,y10000:975.7,y0:1259,yTop:966.5,ax:1094,xr:[1088,1415.7],centers:[1134.7,1213.3,1294.3,1372.7],labelX:[1138.3,1212.7,1287.7,1371],labY:1275,data:fLenV});
T(1248.5,1310,"Time (d) of Estrogen Withdrawal",24,{len:344});
T(1173,912,"MCF-7",21,{len:70});L(1103,917,1236,917,2);T(1329,912,"HCC-1428",21,{len:110});L(1257.7,917,1411,917,2);
star(1170.7,928,28);L(1125,939.5,1212.7,939.5,1.5);star(1332.7,928,28);L(1289,939.5,1374,939.5,1.5);
T(1007,1127.5,"Total mitochondrial length (µm)",21,{rot:-90,len:330});
</script></body></html>
